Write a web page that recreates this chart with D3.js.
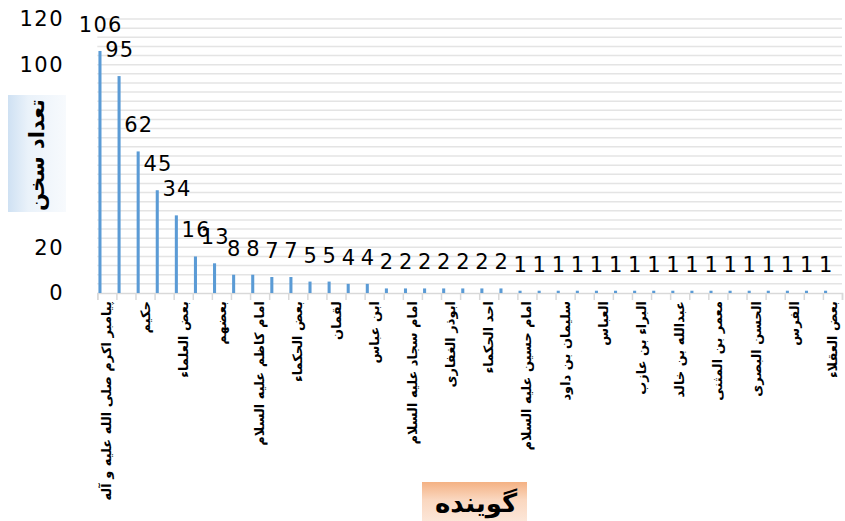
<!DOCTYPE html>
<html>
<head>
<meta charset="utf-8">
<script src="https://cdn.jsdelivr.net/npm/d3@7"></script>
<style>
  body { margin: 0; background: #fff; }
  svg { display: block; }
</style>
</head>
<body>
<svg width="845" height="521"></svg>
<script>
// shown category labels (every second one is skipped by the chart, like in the original)
const labels = [
  "پیامبر اکرم صلی الله علیه و آله", null, "حکیم", null, "بعض العلماء", null,
  "بعضهم", null, "امام کاظم علیه السلام", null, "بعض الحکماء", null,
  "لقمان", null, "ابن عباس", null, "امام سجاد علیه السلام", null,
  "ابوذر الغفاری", null, "احد الحکماء", null, "امام حسین علیه السلام", null,
  "سلیمان بن داود", null, "العباس", null, "البراء بن عازب", null,
  "عبدالله بن خالد", null, "معمر بن المثنی", null, "الحسن البصری", null,
  "الفرس", null, "بعض العقلاء"
]
const values = [
  106, 95, 62, 45, 34, 16, 13, 8, 8, 7, 7, 5, 5, 4, 4,
  2, 2, 2, 2, 2, 2, 2,
  1, 1, 1, 1, 1, 1, 1, 1, 1, 1, 1, 1, 1, 1, 1, 1, 1
]
const yTicks = [0, 20, 40, 60, 80, 100, 120]
const yTitle = "تعداد سخن"
const xTitle = "گوینده"

const svg = d3.select("svg")
const plotLeft = 97.3, plotRight = 842, plotTop = 19, plotBottom = 293

const x = d3.scaleBand().domain(d3.range(values.length)).range([plotLeft, plotRight]).padding(0)
const xEdge = d3.scaleLinear().domain([0, values.length]).range([plotLeft, plotRight])
const y = d3.scaleLinear().domain([0, 120]).range([plotBottom, plotTop])

// grid lines every 4
svg.append("g")
  .selectAll("line")
  .data(d3.range(4, 121, 4))
  .enter()
  .append("line")
  .attr("x1", plotLeft)
  .attr("x2", plotRight)
  .attr("y1", d => y(d))
  .attr("y2", d => y(d))
  .style("stroke", "#e4e4e4")
  .style("stroke-width", 1.5)

// x axis with ticks on category edges
const xAxis = svg.append("g")
  .attr("transform", `translate(0,${plotBottom})`)
  .call(d3.axisBottom(xEdge).tickValues(d3.range(0, values.length + 1)).tickSize(7).tickFormat(""))
xAxis.select(".domain").attr("stroke", "#d9d9d9").attr("stroke-width", 1.5)
xAxis.selectAll(".tick line").attr("stroke", "#d9d9d9").attr("stroke-width", 1.5)

// y axis labels
const yAxis = svg.append("g")
  .attr("transform", `translate(64,0)`)
  .call(d3.axisLeft(y).tickValues(yTicks).tickSize(0).tickPadding(0))
yAxis.select(".domain").remove()
yAxis.selectAll("text")
  .style("font-family", "DejaVu Sans")
  .style("font-size", "21px")
  .style("letter-spacing", "1.5px")
  .attr("fill", "#000")

// bars
const barW = x.bandwidth() * 0.16
svg.append("g")
  .selectAll("rect")
  .data(values)
  .enter()
  .append("rect")
  .attr("x", (d, i) => x(i) + x.bandwidth() * 0.06)
  .attr("y", d => y(d))
  .attr("width", barW)
  .attr("height", d => y(0) - y(d))
  .attr("fill", "#5b9bd5")

// value labels
svg.append("g")
  .selectAll("text")
  .data(values)
  .enter()
  .append("text")
  .attr("x", (d, i) => x(i) + x.bandwidth() * 0.06 + barW / 2 + 0.7)
  .attr("y", d => y(d) - 19)
  .attr("text-anchor", "middle")
  .style("font-family", "DejaVu Sans")
  .style("font-size", "21px")
  .style("letter-spacing", "1.2px")
  .attr("fill", "#000")
  .text(d => d)

// category labels, rotated
svg.append("g")
  .selectAll("text")
  .data(labels.map((l, i) => ({ l, i })).filter(d => d.l))
  .enter()
  .append("text")
  .attr("transform", d => `translate(${x(d.i) + x.bandwidth() / 2},301) rotate(-90)`)
  .attr("dy", "0.35em")
  .attr("text-anchor", "end")
  .style("font-family", "DejaVu Sans")
  .style("font-size", "13px")
  .style("font-weight", "bold")
  .attr("fill", "#000")
  .text(d => d.l)

// gradients for title boxes
const defs = svg.append("defs")
const gBlue = defs.append("linearGradient").attr("id", "gBlue")
  .attr("x1", "0%").attr("x2", "100%").attr("y1", "0%").attr("y2", "0%")
gBlue.append("stop").attr("offset", "0%").attr("stop-color", "#cfe1f3")
gBlue.append("stop").attr("offset", "35%").attr("stop-color", "#eaf2fa")
gBlue.append("stop").attr("offset", "100%").attr("stop-color", "#f7fafd")
const gOrange = defs.append("linearGradient").attr("id", "gOrange")
  .attr("x1", "0%").attr("x2", "0%").attr("y1", "0%").attr("y2", "100%")
gOrange.append("stop").attr("offset", "0%").attr("stop-color", "#f4b183")
gOrange.append("stop").attr("offset", "45%").attr("stop-color", "#fad7bf")
gOrange.append("stop").attr("offset", "100%").attr("stop-color", "#fce6d8")

// y title
svg.append("rect")
  .attr("x", 8).attr("y", 95).attr("width", 58).attr("height", 117)
  .attr("fill", "url(#gBlue)")
svg.append("text")
  .attr("transform", "translate(37,155) rotate(-90)")
  .attr("text-anchor", "middle")
  .attr("dy", "0.35em")
  .style("font-family", "DejaVu Sans")
  .style("font-size", "21px")
  .style("font-weight", "bold")
  .attr("fill", "#000")
  .text(yTitle)

// x title
svg.append("rect")
  .attr("x", 422).attr("y", 482).attr("width", 105).attr("height", 39)
  .attr("fill", "url(#gOrange)")
svg.append("text")
  .attr("x", 476)
  .attr("y", 503)
  .attr("text-anchor", "middle")
  .attr("dy", "0.35em")
  .style("font-family", "DejaVu Sans")
  .style("font-size", "26px")
  .style("font-weight", "bold")
  .attr("fill", "#000")
  .text(xTitle)
</script>
</body>
</html>
